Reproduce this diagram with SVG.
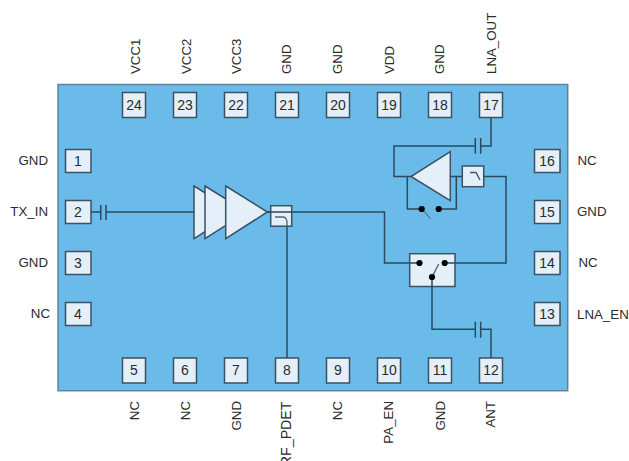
<svg xmlns="http://www.w3.org/2000/svg" width="629" height="461" viewBox="0 0 629 461">
<style>
.b{fill:#e4eff9;stroke:#3a5262;stroke-width:1.500}
.w{fill:none;stroke:#2b4a5e;stroke-width:1.500}
.t{font-family:"Liberation Sans",Arial,sans-serif;font-size:13.3px;fill:#2b2b2b}
.n{font-family:"Liberation Sans",Arial,sans-serif;font-size:14px;fill:#2b2b2b;text-anchor:middle}
.e{text-anchor:end}
.d{fill:#000}
</style>
<rect x="0" y="0" width="629" height="461" fill="#fff"/>
<rect id="body" x="58" y="84.500" width="509.700" height="306.200" fill="#6bbbea" stroke="#5f8298" stroke-width="1.500"/>
<g id="connectors">
<path class="w" d="M91 212H101M106 212H194M100.800 205V220M106 205V220"/>
<path class="w" d="M267 212H384.500V263H419.500M444.700 263H506V176.500H483.700M462.300 176.500H450.300"/>
<path class="w" d="M287 226V358"/>
<path class="w" d="M411 176.500H394V146H475.300M480.700 146H491V117M475.300 138V153.700M480.700 138V153.700"/>
<path class="w" d="M407.300 176.500V209H421.700M438.700 209H456.300V176.500"/>
<path d="M421.700 209L430.700 218.700" fill="none" stroke="#3f5766" stroke-width="1"/>
<path class="w" d="M432 277V329.300H475.300M480.700 329.300H491V358M475.300 321.700V337.700M480.700 321.700V337.700"/>
</g>
<g id="pa"><path class="b" d="M194 186L236 212L194 238.700Z"/><path class="b" d="M205 186L247 212L205 238.700Z"/><path class="b" d="M225.700 186L267.300 212L225.700 238.700Z"/></g>
<g id="coupler"><rect class="b" x="270.700" y="205.700" width="21" height="20.500"/><path class="w" d="M267 212H292"/><path d="M275 217H283.300Q286.500 217.500 287 222V226" fill="none" stroke="#4f6a7b" stroke-width="1.400"/></g>
<g id="lna"><path class="b" d="M450.300 151.700V200.700L411 176.500Z"/></g>
<g id="filter"><rect class="b" x="462.300" y="166" width="21.400" height="20.700"/><path d="M470 172.500H476L480 180" fill="none" stroke="#3f5766" stroke-width="1.400"/></g>
<circle class="d" cx="421.700" cy="209" r="3.100"/><circle class="d" cx="438.700" cy="209" r="3.100"/>
<g id="switch"><rect class="b" x="409.700" y="253.700" width="45.300" height="32.800"/><path class="w" d="M409.700 263H419.500M444.700 263H455M432 277V286.500"/><path d="M432 277L438.700 264" fill="none" stroke="#3f5766" stroke-width="1.200"/><circle class="d" cx="419.500" cy="263" r="3.100"/><circle class="d" cx="444.700" cy="263" r="3.100"/><circle class="d" cx="432" cy="277" r="3.100"/></g>
<g id="pin1"><rect class="b" x="65.500" y="149.500" width="25.500" height="23"/><text class="n" x="78" y="166">1</text><text class="t e" x="48" y="165">GND</text></g>
<g id="pin2"><rect class="b" x="65.500" y="200.500" width="25.500" height="23"/><text class="n" x="78" y="217">2</text><text class="t e" x="48" y="216">TX_IN</text></g>
<g id="pin3"><rect class="b" x="65.500" y="251.500" width="25.500" height="23"/><text class="n" x="78" y="268">3</text><text class="t e" x="48" y="267">GND</text></g>
<g id="pin4"><rect class="b" x="65.500" y="302.500" width="25.500" height="23"/><text class="n" x="78" y="319">4</text><text class="t e" x="50" y="318">NC</text></g>
<g id="pin5"><rect class="b" x="122.500" y="358" width="23" height="25"/><text class="n" x="134" y="375">5</text><text class="t e" transform="translate(139 401) rotate(-90)">NC</text></g>
<g id="pin6"><rect class="b" x="173.500" y="358" width="23" height="25"/><text class="n" x="185" y="375">6</text><text class="t e" transform="translate(190 401) rotate(-90)">NC</text></g>
<g id="pin7"><rect class="b" x="224.500" y="358" width="23" height="25"/><text class="n" x="236" y="375">7</text><text class="t e" transform="translate(241 401) rotate(-90)">GND</text></g>
<g id="pin8"><rect class="b" x="275.500" y="358" width="23" height="25"/><text class="n" x="287" y="375">8</text><text class="t e" font-size="14.200" style="font-size:14.200px" transform="translate(291 401.500) rotate(-90)">RF_PDET</text></g>
<g id="pin9"><rect class="b" x="326.500" y="358" width="23" height="25"/><text class="n" x="338" y="375">9</text><text class="t e" transform="translate(342.300 401) rotate(-90)">NC</text></g>
<g id="pin10"><rect class="b" x="377.500" y="358" width="23" height="25"/><text class="n" x="389" y="375">10</text><text class="t e" transform="translate(393.300 401) rotate(-90)">PA_EN</text></g>
<g id="pin11"><rect class="b" x="428.500" y="358" width="23" height="25"/><text class="n" x="440" y="375">11</text><text class="t e" transform="translate(444.500 401) rotate(-90)">GND</text></g>
<g id="pin12"><rect class="b" x="479.500" y="358" width="23" height="25"/><text class="n" x="491" y="375">12</text><text class="t e" transform="translate(495 401) rotate(-90)">ANT</text></g>
<g id="pin13"><rect class="b" x="534.500" y="302.500" width="25.500" height="23"/><text class="n" x="547" y="319">13</text><text class="t" x="577" y="318.500">LNA_EN</text></g>
<g id="pin14"><rect class="b" x="534.500" y="251.500" width="25.500" height="23"/><text class="n" x="547" y="268">14</text><text class="t" x="578.500" y="267">NC</text></g>
<g id="pin15"><rect class="b" x="534.500" y="200.500" width="25.500" height="23"/><text class="n" x="547" y="217">15</text><text class="t" x="577" y="216">GND</text></g>
<g id="pin16"><rect class="b" x="534.500" y="149.500" width="25.500" height="23"/><text class="n" x="547" y="166">16</text><text class="t" x="577.500" y="165">NC</text></g>
<g id="pin17"><rect class="b" x="479.500" y="92.500" width="23" height="25"/><text class="n" x="491" y="110">17</text><text class="t" transform="translate(496 74) rotate(-90)">LNA_OUT</text></g>
<g id="pin18"><rect class="b" x="428.500" y="92.500" width="23" height="25"/><text class="n" x="440" y="110">18</text><text class="t" transform="translate(444 74) rotate(-90)">GND</text></g>
<g id="pin19"><rect class="b" x="377.500" y="92.500" width="23" height="25"/><text class="n" x="389" y="110">19</text><text class="t" transform="translate(394 74) rotate(-90)">VDD</text></g>
<g id="pin20"><rect class="b" x="326.500" y="92.500" width="23" height="25"/><text class="n" x="338" y="110">20</text><text class="t" transform="translate(342 74) rotate(-90)">GND</text></g>
<g id="pin21"><rect class="b" x="275.500" y="92.500" width="23" height="25"/><text class="n" x="287" y="110">21</text><text class="t" transform="translate(291 74) rotate(-90)">GND</text></g>
<g id="pin22"><rect class="b" x="224.500" y="92.500" width="23" height="25"/><text class="n" x="236" y="110">22</text><text class="t" transform="translate(241 74) rotate(-90)">VCC3</text></g>
<g id="pin23"><rect class="b" x="173.500" y="92.500" width="23" height="25"/><text class="n" x="185" y="110">23</text><text class="t" transform="translate(190.500 74) rotate(-90)">VCC2</text></g>
<g id="pin24"><rect class="b" x="122.500" y="92.500" width="23" height="25"/><text class="n" x="134" y="110">24</text><text class="t" transform="translate(140 74) rotate(-90)">VCC1</text></g>
</svg>
